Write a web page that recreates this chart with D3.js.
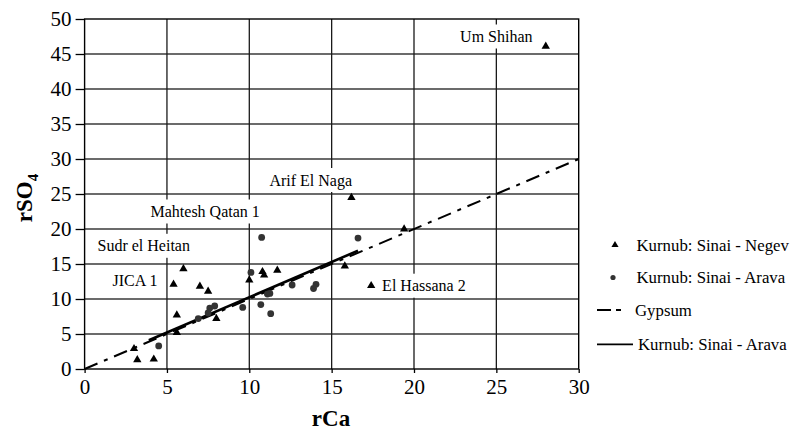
<!DOCTYPE html>
<html>
<head>
<meta charset="utf-8">
<script src="https://cdn.jsdelivr.net/npm/d3@7/dist/d3.min.js"></script>
<style>
  html, body { margin: 0; padding: 0; background: #fff; }
  svg { display: block; }
  svg text { font-family: "Liberation Serif", "Times New Roman", serif; }
</style>
</head>
<body>
<svg id="chart" width="795" height="431"></svg>
<script>
// ---- Data ----
const xTicks = [0, 5, 10, 15, 20, 25, 30];
const yTicks = [0, 5, 10, 15, 20, 25, 30, 35, 40, 45, 50];

const negevX = [3.0, 3.2, 4.2, 5.6, 5.6, 5.4, 6.0, 7.0, 7.5, 8.0, 10.0, 10.8, 10.9, 11.7, 15.8, 16.2, 17.4, 19.4, 28.0];
const negevY = [2.9, 1.3, 1.4, 5.2, 7.7, 12.1, 14.3, 11.8, 11.1, 7.2, 12.7, 13.9, 13.4, 14.1, 14.7, 24.5, 11.9, 20.0, 46.1];

const aravaX = [4.5, 6.9, 7.6, 7.5, 7.9, 9.6, 10.1, 10.75, 10.7, 11.1, 11.25, 11.3, 12.6, 13.9, 14.05, 16.6];
const aravaY = [3.3, 7.2, 8.7, 8.0, 9.0, 8.8, 13.8, 18.8, 9.2, 10.7, 10.8, 7.9, 12.0, 11.5, 12.1, 18.7];

const gypsumX = [0, 30];
const gypsumY = [0, 30];

const fitX = [3.9, 16.6];
const fitY = [4.1, 16.9];

const labelText = ["Um Shihan", "Arif El Naga", "Mahtesh Qatan 1", "Sudr el Heitan", "JICA 1", "El Hassana 2"];
const labelX = [25.0, 13.73, 7.32, 3.59, 3.06, 20.6];
const labelY = [47.5, 27.0, 22.5, 17.6, 12.7, 11.9];

const legendLabels = ["Kurnub: Sinai - Negev", "Kurnub: Sinai - Arava", "Gypsum", "Kurnub: Sinai - Arava"];

// ---- Layout ----
const FONT = "'Liberation Serif', 'Times New Roman', serif";
const svg = d3.select("#chart").attr("font-family", FONT);
const L = 84.6, R = 578.7, T = 19, B = 369;
const x = d3.scaleLinear().domain([0, 30]).range([L, R]);
const y = d3.scaleLinear().domain([0, 50]).range([B, T]);

// Grid
const grid = svg.append("g");
grid.selectAll(".hg").data(yTicks.filter(d => d > 0 && d < 50)).join("line")
  .attr("x1", L).attr("x2", R).attr("y1", d => y(d)).attr("y2", d => y(d))
  .attr("stroke", "#3a3a3a").attr("stroke-width", 1.3);
grid.selectAll(".vg").data(xTicks.filter(d => d > 0 && d < 30)).join("line")
  .attr("x1", d => x(d)).attr("x2", d => x(d)).attr("y1", T).attr("y2", B)
  .attr("stroke", "#1a1a1a").attr("stroke-width", 1.3);

// Border
svg.append("rect").attr("x", L).attr("y", T).attr("width", R - L).attr("height", B - T)
  .attr("fill", "none").attr("stroke", "#000").attr("stroke-width", 1.4);

// Axes
const yAxis = d3.axisLeft(y).tickValues(yTicks).tickSize(9).tickPadding(4).tickFormat(d3.format("d"));
const gy = svg.append("g").attr("transform", `translate(${L},0)`).call(yAxis).attr("font-family", FONT);
gy.select(".domain").remove();
gy.selectAll("line").attr("stroke", "#000").attr("stroke-width", 1.3);
gy.selectAll("text").attr("font-size", 21).attr("fill", "#000").style("font-family", FONT);

const xAxis = d3.axisBottom(x).tickValues(xTicks).tickSize(4).tickPadding(6).tickFormat(d3.format("d"));
const gx = svg.append("g").attr("transform", `translate(0,${B})`).call(xAxis).attr("font-family", FONT);
gx.select(".domain").remove();
gx.selectAll("line").attr("stroke", "#000").attr("stroke-width", 1.3);
gx.selectAll("text").attr("font-size", 21).attr("fill", "#000").style("font-family", FONT);

// Axis titles
svg.append("text").attr("x", 331).attr("y", 426).attr("text-anchor", "middle")
  .attr("font-size", 23).attr("font-weight", "bold").style("font-family", FONT).text("rCa");
const yt = svg.append("text").attr("transform", "translate(32,198) rotate(-90)")
  .attr("text-anchor", "middle").attr("font-size", 23).attr("font-weight", "bold").style("font-family", FONT);
yt.append("tspan").text("rSO");
yt.append("tspan").attr("font-size", 15).attr("dy", 6).text("4");

// Lines
const line = d3.line().x(d => x(d[0])).y(d => y(d[1]));
svg.append("path").datum(gypsumX.map((v, i) => [v, gypsumY[i]]))
  .attr("d", line).attr("fill", "none").attr("stroke", "#000").attr("stroke-width", 2)
  .attr("stroke-dasharray", "14,7,4,7");
svg.append("path").datum(fitX.map((v, i) => [v, fitY[i]]))
  .attr("d", line).attr("fill", "none").attr("stroke", "#000").attr("stroke-width", 2.6);

// Labels with white boxes
const lg = svg.append("g").attr("font-size", 16);
labelText.forEach((t, i) => {
  const tx = lg.append("text").attr("x", x(labelX[i])).attr("y", y(labelY[i]))
    .attr("dy", "0.35em").attr("text-anchor", "middle").style("font-family", FONT).text(t);
  const bb = tx.node().getBBox();
  lg.insert("rect", "text").attr("x", bb.x - 4).attr("y", y(labelY[i]) - 12)
    .attr("width", bb.width + 8).attr("height", 24).attr("fill", "#fff");
});

// Points
const tri = d3.symbol().type(d3.symbolTriangle).size(30);
svg.append("g").selectAll("path").data(negevX.map((v, i) => [v, negevY[i]])).join("path")
  .attr("d", tri).attr("transform", d => `translate(${x(d[0])},${y(d[1])})`).attr("fill", "#000");
svg.append("g").selectAll("circle").data(aravaX.map((v, i) => [v, aravaY[i]])).join("circle")
  .attr("cx", d => x(d[0])).attr("cy", d => y(d[1])).attr("r", 3.4).attr("fill", "#333");

// Legend
const leg = svg.append("g").attr("font-size", 16.8);
const ly = [245, 277.5, 310, 344.3];
leg.append("path").attr("d", d3.symbol().type(d3.symbolTriangle).size(22))
  .attr("transform", `translate(615,${ly[0]})`).attr("fill", "#000");
leg.append("circle").attr("cx", 613).attr("cy", ly[1]).attr("r", 2.6).attr("fill", "#333");
leg.append("line").attr("x1", 597).attr("x2", 623).attr("y1", ly[2]).attr("y2", ly[2])
  .attr("stroke", "#000").attr("stroke-width", 2.2).attr("stroke-dasharray", "14,5,5,20");
leg.append("line").attr("x1", 597).attr("x2", 633).attr("y1", ly[3]).attr("y2", ly[3])
  .attr("stroke", "#000").attr("stroke-width", 1.8);
const lx = [636.5, 636.5, 635, 638];
legendLabels.forEach((t, i) => {
  leg.append("text").attr("x", lx[i]).attr("y", ly[i]).attr("dy", "0.35em").style("font-family", FONT).text(t);
});
</script>
</body>
</html>
